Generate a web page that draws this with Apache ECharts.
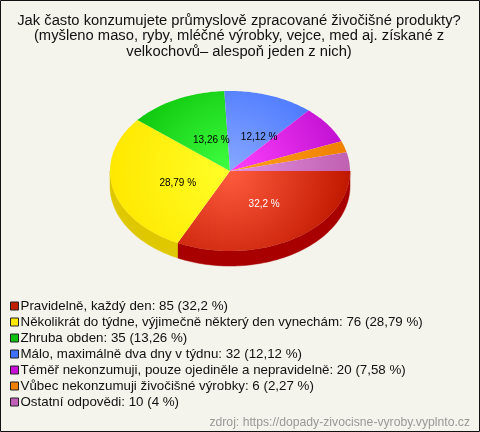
<!DOCTYPE html>
<html><head><meta charset="utf-8">
<style>html,body{margin:0;padding:0;background:#f4f4ec}#c{width:480px;height:432px;box-sizing:border-box}</style>
<script src="https://cdn.jsdelivr.net/npm/echarts@6/dist/echarts.min.js"></script>
</head><body><div id="c"></div>
<script>
const titleText = 'Jak často konzumujete průmyslově zpracované živočišné produkty?\n(myšleno maso, ryby, mléčné výrobky, vejce, med aj. získané z\nvelkochovů– alespoň jeden z nich)';
const sourceText = 'zdroj: https://dopady-zivocisne-vyroby.vyplnto.cz';
const categories = ['Pravidelně, každý den','Několikrát do týdne, výjimečně některý den vynechám','Zhruba obden','Málo, maximálně dva dny v týdnu','Téměř nekonzumuji, pouze ojediněle a nepravidelně','Vůbec nekonzumuji živočišné výrobky','Ostatní odpovědi'];
const counts = [85,76,35,32,20,6,10];
const percentLabels = ['32,2','28,79','13,26','12,12','7,58','2,27','4'];
const legendColors = ['#c02000','#ffe800','#10c010','#4070ff','#c810d8','#f08000','#c060b8'];
const centerColors = ['#ff5c3e','#ffff28','#40ff40','#88a8ff','#ff40ff','#ffa020','#e490e4'];
const edgeColors = ['#c01800','#ffe800','#08c008','#4070ff','#c010d0','#f08000','#c060b0'];
const sideColors = ['#a80000','#e0c800','#08a008','#3058d0','#a000b0','#c86800','#a05090'];
const labelNudges = [[0,0],[-5,2],[0,-2],[6,-3],null,null,null];

const cx = 230, cy = 171, rx = 120, ry = 80, depth = 15;
const total = counts.reduce((a,b)=>a+b,0);
let acc = 0;
const spans = counts.map(v=>{const s=acc/total*Math.PI*2; acc+=v; return [s,acc/total*Math.PI*2];});

function arc(a0,a1,dy){
  const n = Math.max(2,Math.ceil((a1-a0)/0.02)); const pts=[];
  for(let i=0;i<=n;i++){const a=a0+(a1-a0)*i/n; pts.push([cx+rx*Math.cos(a),cy+dy+ry*Math.sin(a)]);}
  return pts;
}
function renderSlice(i){
  return function(){
    const [a0,a1]=spans[i]; const children=[];
    const s0=Math.max(a0,0), s1=Math.min(a1,Math.PI);
    if(s1>s0){
      children.push({type:'polygon',shape:{points:arc(s0,s1,0).concat(arc(s0,s1,depth).reverse())},style:{fill:sideColors[i],stroke:sideColors[i],lineWidth:.5}});
    }
    children.push({type:'polygon',shape:{points:[[cx,cy]].concat(arc(a0,a1,0))},style:{
      fill:{type:'radial',x:cx,y:cy,r:rx,global:true,colorStops:[{offset:0,color:centerColors[i]},{offset:1,color:edgeColors[i]}]}
    }});
    if(labelNudges[i]){
      const m=(a0+a1)/2;
      children.push({type:'text',z2:50,style:{
        x:cx+.45*rx*Math.cos(m)+5.5+labelNudges[i][0],
        y:cy+.45*ry*Math.sin(m)+3+labelNudges[i][1],
        text:percentLabels[i]+' %',align:'center',verticalAlign:'middle',
        font:'10px "Liberation Sans",Arial,sans-serif',fill:i===0?'#fff':'#000'
      }});
    }
    return {type:'group',children};
  };
}
const chart = echarts.init(document.getElementById('c'),null,{renderer:'canvas'});
chart.setOption({
  backgroundColor:'#f4f4ec',animation:false,
  title:[
    {text:titleText,left:234,top:8,textAlign:'center',textStyle:{fontFamily:'Liberation Sans',fontSize:14.76,fontWeight:'normal',color:'#111',lineHeight:15.5,align:'center'}},
    {text:sourceText,right:5,top:412,textStyle:{fontFamily:'Liberation Sans',fontSize:12.2,fontWeight:'normal',color:'#999'}}
  ],
  legend:{orient:'vertical',left:10,top:298,itemWidth:8,itemHeight:8,itemGap:0,selectedMode:false,
    padding:0,icon:'rect',
    itemStyle:{borderColor:'#222',borderWidth:1},
    textStyle:{fontFamily:'Liberation Sans',fontSize:13.33,color:'#111',lineHeight:16,height:16,padding:[0,0,0,-3]},
    data:categories.map((c,i)=>c+': '+counts[i]+' ('+percentLabels[i]+' %)')},
  series:categories.map((c,i)=>({type:'custom',coordinateSystem:'none',name:c+': '+counts[i]+' ('+percentLabels[i]+' %)',
    itemStyle:{color:legendColors[i]},data:[counts[i]],renderItem:renderSlice(i),silent:true})),
  graphic:[{type:'rect',shape:{x:.5,y:.5,width:479,height:431},style:{fill:'none',stroke:'#111',lineWidth:1},z:100}]
});
</script></body></html>
